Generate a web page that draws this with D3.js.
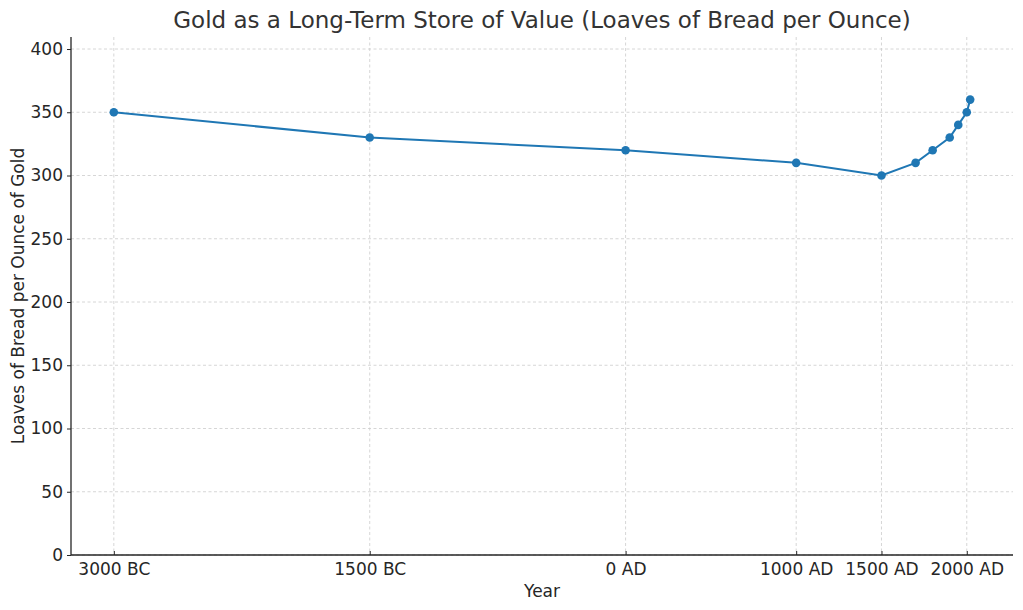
<!DOCTYPE html>
<html><head><meta charset="utf-8">
<script src="https://cdn.jsdelivr.net/npm/d3@7"></script>
<style>
body{margin:0;background:#fff;}
text{font-family:"DejaVu Sans",sans-serif;}
</style></head>
<body><svg id="c" width="1023" height="610"></svg>
<script>
const years = [-3000, -1500, 0, 1000, 1500, 1700, 1800, 1900, 1950, 2000, 2020];
const loaves = [350, 330, 320, 310, 300, 310, 320, 330, 340, 350, 360];
const xTickValues = [-3000, -1500, 0, 1000, 1500, 2000];
const xTickLabels = ["3000 BC", "1500 BC", "0 AD", "1000 AD", "1500 AD", "2000 AD"];
const yTickValues = [0, 50, 100, 150, 200, 250, 300, 350, 400];

const svg = d3.select("#c");
const L = 71, R = 1013, T = 37, B = 555;
const x = d3.scaleLinear().domain([-3251, 2271]).range([L, R]);
const y = d3.scaleLinear().domain([0, 409.5]).range([B, T]);
const txt = "#262626";
const fs = "17px";

// grid
svg.append("g").selectAll("line").data(xTickValues).join("line")
  .attr("x1", d => x(d)).attr("x2", d => x(d)).attr("y1", T).attr("y2", B)
  .attr("stroke", "#cccccc").attr("stroke-width", 0.8).attr("stroke-dasharray", "3,2.5");
svg.append("g").selectAll("line").data(yTickValues).join("line")
  .attr("x1", L).attr("x2", R).attr("y1", d => y(d)).attr("y2", d => y(d))
  .attr("stroke", "#cccccc").attr("stroke-width", 0.8).attr("stroke-dasharray", "3,2.5");

// axes
const xAxis = d3.axisBottom(x).tickValues(xTickValues)
  .tickFormat((d, i) => xTickLabels[i]).tickSizeInner(-4).tickSizeOuter(0).tickPadding(8);
const gx = svg.append("g").attr("transform", `translate(0,${B})`).call(xAxis);
gx.select(".domain").remove();
gx.selectAll(".tick line").attr("stroke", "#262626").attr("stroke-width", 1);
gx.selectAll("text").attr("fill", txt).style("font-size", fs).style("font-family", "DejaVu Sans");

const yAxis = d3.axisLeft(y).tickValues(yTickValues).tickSizeInner(4).tickSizeOuter(0).tickPadding(4);
const gy = svg.append("g").attr("transform", `translate(${L},0)`).call(yAxis);
gy.select(".domain").remove();
gy.selectAll(".tick line").attr("stroke", "#262626").attr("stroke-width", 1);
gy.selectAll("text").attr("fill", txt).style("font-size", fs).style("font-family", "DejaVu Sans");

// spines
svg.append("line").attr("x1", L).attr("x2", L).attr("y1", T).attr("y2", B).attr("stroke", "#262626").attr("stroke-width", 1.3);
svg.append("line").attr("x1", L).attr("x2", R).attr("y1", B).attr("y2", B).attr("stroke", "#262626").attr("stroke-width", 1.3);

// line
const data = years.map((yr, i) => ({yr, v: loaves[i]}));
svg.append("path").datum(data)
  .attr("d", d3.line().x(d => x(d.yr)).y(d => y(d.v)))
  .attr("fill", "none").attr("stroke", "#1f77b4").attr("stroke-width", 2);
svg.append("g").selectAll("circle").data(data).join("circle")
  .attr("cx", d => x(d.yr)).attr("cy", d => y(d.v)).attr("r", 4.3).attr("fill", "#1f77b4");

// titles
svg.append("text").attr("x", (L + R) / 2).attr("y", 28).attr("text-anchor", "middle")
  .attr("fill", "#333").style("font-size", "23px").text("Gold as a Long-Term Store of Value (Loaves of Bread per Ounce)");
svg.append("text").attr("x", (L + R) / 2).attr("y", 597).attr("text-anchor", "middle")
  .attr("fill", txt).style("font-size", fs).text("Year");
svg.append("text").attr("transform", `translate(24,${(T + B) / 2}) rotate(-90)`).attr("text-anchor", "middle")
  .attr("fill", txt).style("font-size", fs).text("Loaves of Bread per Ounce of Gold");
</script></body></html>
